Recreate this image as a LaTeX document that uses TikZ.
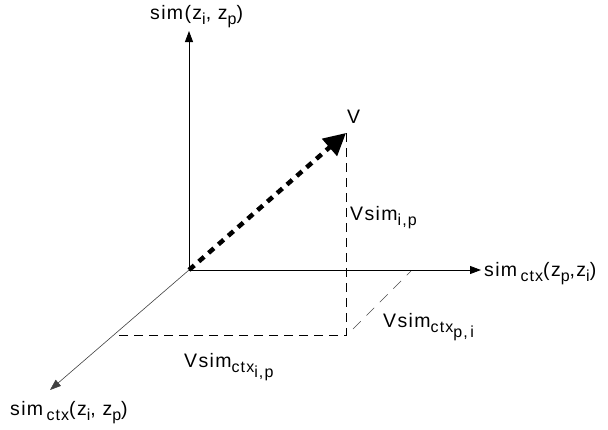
\documentclass[tikz,border=0pt]{standalone}
\usepackage{fontspec}
\setmainfont{Liberation Sans}[LetterSpace=7]
\usepackage{tikz}
\usetikzlibrary{arrows.meta, positioning}
\tikzset{
    axis/.style={line width=0.8pt, -{Triangle[length=11pt, width=8pt]}},
    proj/.style={line width=0.7pt, dash pattern=on 9pt off 6pt},
    axislabel/.style={font=\fontsize{19.5}{21}\selectfont, inner sep=0pt, anchor=west}
}
\newcommand{\ssub}[1]{\raisebox{-0.5ex}{\fontsize{16}{18}\selectfont #1}}

\begin{document}
\begin{tikzpicture}[x=1pt, y=-1pt]
            \useasboundingbox (0,0) rectangle (608,429);
            \coordinate (O) at (189,270);
            \coordinate (up) at (189,31);
            \coordinate (right) at (481,270);
            \coordinate (front) at (50,390);
            \coordinate (tipV) at (346,133);
            \coordinate (foot) at (346,335);
            \coordinate (sideA) at (114,335);
            \coordinate (sideB) at (411,271);
            
            \draw[axis] (O) -- (up);
            \draw[axis] (O) -- (right);
            \draw[axis, line width=0.6pt, draw=black!75] (O) -- (front);
            
            \draw[proj] (tipV) -- (foot) -- (sideA);
            \draw[proj, line width=0.5pt, draw=black!70, dash pattern=on 11pt off 8pt] (foot) ++(7,-6) -- (sideB);
            
            \draw[line width=4.5pt, dash pattern=on 7pt off 6pt, -{Triangle[length=22pt, width=22pt]}] (O) -- (tipV);
            
            \node[axislabel] (lblup) at (150,17) {sim(z\ssub{i}, z\ssub{p})};
            \node[axislabel] (lblright) at (484,274) {sim\,\ssub{ctx}(z\ssub{p},z\ssub{i})};
            \node[axislabel] (lblfront) at (10,413) {sim\,\ssub{ctx}(z\ssub{i}, z\ssub{p})};
            \node[axislabel] (lblV) at (347,117) {V};
            \node[axislabel] (lblvsim) at (350,218) {Vsim\ssub{i,p}};
            \node[axislabel] (lblctxpi) at (383,327) {Vsim\ssub{ctx\ssub{p,\,i}}};
            \node[axislabel] (lblctxip) at (184,367) {Vsim\ssub{ctx\ssub{i,p}}};
        \end{tikzpicture}
\end{document}
